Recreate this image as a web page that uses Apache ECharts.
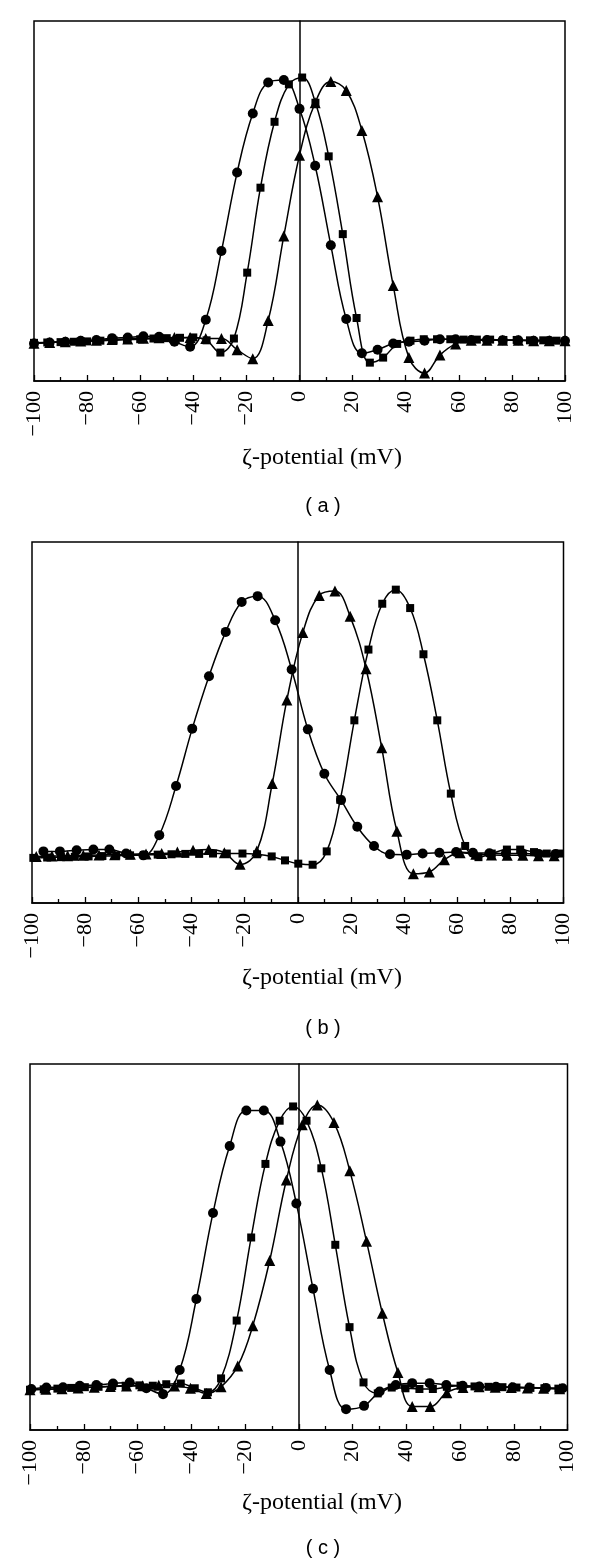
<!DOCTYPE html>
<html>
<head>
<meta charset="utf-8">
<script src="https://cdn.jsdelivr.net/npm/echarts@6/dist/echarts.min.js"></script>
<style>
html,body{margin:0;padding:0;background:#fff;}
#chart{width:600px;height:1564px;}
</style>
</head>
<body>
<div id="chart"></div>
<script>
// ---------- Data ----------
var xTicks = [-100, -80, -60, -40, -20, 0, 20, 40, 60, 80, 100];
var axisTitle = 'ζ-potential (mV)';
var panelLabels = ['( a )', '( b )', '( c )'];

// Panel (a)
var aCircleX = [-100,-94.1,-88.2,-82.4,-76.5,-70.6,-64.7,-58.8,-52.9,-47.1,-41.2,-35.3,-29.4,-23.5,-17.6,-11.8,-5.9,0,5.9,11.8,17.6,23.5,29.4,35.3,41.2,47.1,52.9,58.8,64.7,70.6,76.5,82.4,88.2,94.1,100];
var aCircleY = [10.4,10.7,10.9,11.2,11.4,11.9,12.1,12.4,12.3,10.9,9.5,17.0,36.1,57.9,74.3,82.9,83.6,75.6,59.8,37.7,17.2,7.7,8.7,10.4,10.9,11.2,11.6,11.6,11.4,11.4,11.3,11.3,11.2,11.2,11.2];
var aSquareX = [-100,-95,-90,-85,-80,-75,-70,-65,-60,-55,-50,-45,-40,-35,-29.8,-24.7,-19.7,-14.7,-9.4,-4.0,1.0,6.0,11.0,16.3,21.5,26.5,31.5,36.8,41.8,46.8,51.8,56.8,61.8,66.8,71.8,76.8,81.8,86.8,91.8,96.8];
var aSquareY = [10.6,10.7,10.8,10.9,11.0,11.2,11.3,11.5,11.6,11.8,11.9,12.0,12.1,11.3,7.9,11.8,30.1,53.7,72.0,82.4,84.3,77.3,62.4,40.8,17.5,5.1,6.5,10.3,11.2,11.6,11.6,11.6,11.5,11.5,11.5,11.4,11.4,11.3,11.3,11.2];
var aTriX = [-100,-94.1,-88.2,-82.4,-76.5,-70.6,-64.7,-58.8,-52.9,-47.1,-41.2,-35.3,-29.4,-23.5,-17.6,-11.8,-5.9,0,5.9,11.8,17.6,23.5,29.4,35.3,41.2,47.1,52.9,58.8,64.7,70.6,76.5,82.4,88.2,94.1,100];
var aTriY = [10.5,10.7,10.9,11.1,11.3,11.5,11.7,11.9,12.0,12.1,12.1,11.8,11.8,8.7,6.2,16.8,40.3,62.7,77.3,83.2,80.7,69.6,51.2,26.5,6.5,2.2,7.2,10.3,11.3,11.3,11.3,11.3,11.2,11.2,11.2];

// Panel (b)
var bCircleX = [-95.7,-89.5,-83.2,-76.9,-70.9,-64.6,-58.1,-52.1,-45.8,-39.7,-33.4,-27.1,-21.1,-15.1,-8.5,-2.3,3.8,10.0,16.3,22.4,28.7,34.7,41.0,47.0,53.3,59.6,65.9,72.1,78.3,84.5,90.7,97.0];
var bCircleY = [14.3,14.3,14.6,14.8,14.8,13.7,13.2,18.8,32.4,48.3,62.8,75.1,83.4,85.0,78.3,64.7,48.1,35.8,28.5,21.1,15.8,13.5,13.4,13.7,13.9,14.1,13.9,13.8,13.7,13.7,13.6,13.6];
var bSquareX = [-99.5,-94.3,-89.1,-83.9,-78.7,-73.5,-68.3,-63.1,-57.9,-52.7,-47.5,-42.3,-37.1,-31.9,-26.7,-20.8,-15.3,-9.8,-4.8,0.2,5.6,10.9,16.0,21.3,26.6,31.8,36.9,42.3,47.3,52.5,57.6,63.0,68.0,73.0,78.7,83.7,88.9,93.7,98.7];
var bSquareY = [12.5,12.6,12.7,12.8,12.9,13.0,13.1,13.2,13.3,13.4,13.5,13.6,13.6,13.7,13.7,13.7,13.5,12.9,11.8,10.9,10.6,14.3,28.6,50.6,70.2,82.9,86.8,81.7,68.9,50.6,30.3,15.8,12.7,13.7,14.8,14.8,14.1,13.7,13.7];
var bTriX = [-98.4,-92.5,-86.6,-80.7,-74.8,-68.9,-63.0,-57.1,-51.2,-45.3,-39.4,-33.5,-27.6,-21.7,-15.4,-9.6,-4.1,1.9,8.1,14.0,19.7,25.7,31.6,37.3,43.5,49.5,55.2,61.1,67.0,72.9,78.8,84.7,90.6,96.5];
var bTriY = [12.9,13.0,13.1,13.2,13.3,13.4,13.5,13.6,13.7,14.1,14.6,14.8,13.9,10.7,14.4,33.1,56.2,74.9,85.2,86.4,79.4,64.9,43.0,19.9,8.1,8.6,12.0,13.9,13.5,13.3,13.2,13.2,13.1,13.1];

// Panel (c)
var cCircleX = [-99.5,-93.9,-87.7,-81.5,-75.3,-69.1,-62.9,-56.7,-50.5,-44.3,-38.1,-31.9,-25.7,-19.5,-13.0,-6.8,-0.9,5.3,11.5,17.6,24.3,30.1,36.1,42.2,48.7,54.9,61.0,67.2,73.4,79.6,85.8,92.0,98.2];
var cCircleY = [11.2,11.6,11.7,12.1,12.3,12.7,13.0,11.4,9.8,16.4,35.8,59.3,77.6,87.3,87.3,78.8,61.9,38.6,16.4,5.7,6.6,10.5,12.3,12.8,12.8,12.3,12.1,11.9,11.8,11.7,11.6,11.5,11.4];
var cSquareX = [-100,-94.9,-89.8,-84.7,-79.6,-74.5,-69.4,-64.4,-59.3,-54.3,-49.3,-43.9,-38.7,-33.8,-28.9,-23.1,-17.7,-12.4,-7.1,-2.1,2.9,8.4,13.6,18.9,24.1,29.4,34.6,39.7,44.9,49.9,55.1,60.2,65.4,70.6,75.8,81.0,86.2,91.4,96.6];
var cSquareY = [11.0,11.1,11.3,11.5,11.7,11.8,12.0,12.1,12.2,12.1,12.5,12.7,11.4,10.3,14.1,29.9,52.6,72.7,84.5,88.4,84.5,71.5,50.6,28.1,13.0,10.0,11.6,11.4,11.2,11.2,11.8,12.1,11.9,11.8,11.7,11.6,11.5,11.4,11.3];
var cTriX = [-100,-94.1,-88.1,-82.1,-76.1,-70.1,-64.1,-58.1,-52.1,-46.2,-40.3,-34.4,-28.9,-22.7,-17.1,-10.8,-4.6,1.3,6.9,13.1,19.0,25.2,31.1,36.9,42.2,48.9,55.1,61.1,67.1,73.1,79.1,85.1,91.1,97.1];
var cTriY = [11.0,11.1,11.3,11.5,11.7,11.9,12.0,12.1,12.2,12.0,11.4,10.0,11.8,17.5,28.5,46.3,68.3,83.4,88.8,84.0,70.8,51.6,31.9,15.7,6.4,6.4,10.2,11.6,11.8,11.7,11.6,11.5,11.4,11.3];

// ---------- Chart ----------
function pairs(xs, ys) { return xs.map(function (x, i) { return [x, ys[i]]; }); }

var grids = [
  {left: 34, top: 21, width: 531, height: 360},
  {left: 32, top: 542, width: 531.5, height: 361},
  {left: 30, top: 1064, width: 537.5, height: 366}
];
var titleY = [458, 978, 1503];
var labelY = [506, 1028, 1548];

var panels = [
  [[aCircleX, aCircleY], [aSquareX, aSquareY], [aTriX, aTriY]],
  [[bCircleX, bCircleY], [bSquareX, bSquareY], [bTriX, bTriY]],
  [[cCircleX, cCircleY], [cSquareX, cSquareY], [cTriX, cTriY]]
];
var symbols = ['circle', 'rect', 'triangle'];
var symbolSizes = [10, 8, 11];

var option = {
  animation: false,
  backgroundColor: '#fff',
  grid: grids.map(function (g) {
    return Object.assign({show: true, borderColor: '#000', borderWidth: 1.5, backgroundColor: 'transparent'}, g);
  }),
  xAxis: grids.map(function (g, i) {
    return {
      type: 'value', gridIndex: i, min: -100, max: 100, interval: 20,
      axisLine: {show: true, onZero: false, lineStyle: {color: '#000', width: 1.5}},
      axisTick: {show: true, inside: true, length: 6, lineStyle: {color: '#000', width: 1.3}},
      minorTick: {show: true, splitNumber: 2, length: 4, lineStyle: {color: '#000', width: 1.3}},
      splitLine: {show: false},
      axisLabel: {
        rotate: 90, margin: 10, color: '#000', fontSize: 22,
        fontFamily: 'Liberation Serif, DejaVu Serif, serif',
        formatter: function (v) { return String(v).replace('-', '\u2212'); }
      }
    };
  }),
  yAxis: grids.map(function (g, i) {
    return {
      type: 'value', gridIndex: i, min: 0, max: 100,
      axisLine: {show: true, onZero: true, lineStyle: {color: '#000', width: 1.5}},
      axisTick: {show: false}, axisLabel: {show: false}, splitLine: {show: false}
    };
  }),
  series: [],
  graphic: []
};

panels.forEach(function (panel, pi) {
  panel.forEach(function (s, si) {
    option.series.push({
      type: 'line', xAxisIndex: pi, yAxisIndex: pi,
      data: pairs(s[0], s[1]),
      smooth: 0.4,
      symbol: symbols[si], symbolSize: symbolSizes[si], showAllSymbol: true,
      lineStyle: {color: '#000', width: 1.5},
      itemStyle: {color: '#000', borderWidth: 0},
      z: 3
    });
  });
  option.graphic.push({
    type: 'text',
    style: {text: axisTitle, fill: '#000', font: '24px "Liberation Serif", "DejaVu Serif", serif',
            textAlign: 'center', textVerticalAlign: 'middle'},
    x: 322, y: titleY[pi]
  });
  option.graphic.push({
    type: 'text',
    style: {text: panelLabels[pi], fill: '#000', font: '20px "Liberation Sans", Arial, sans-serif',
            textAlign: 'center', textVerticalAlign: 'middle'},
    x: 323, y: labelY[pi]
  });
});

var chart = echarts.init(document.getElementById('chart'), null, {renderer: 'canvas'});
chart.setOption(option);
</script>
</body>
</html>
